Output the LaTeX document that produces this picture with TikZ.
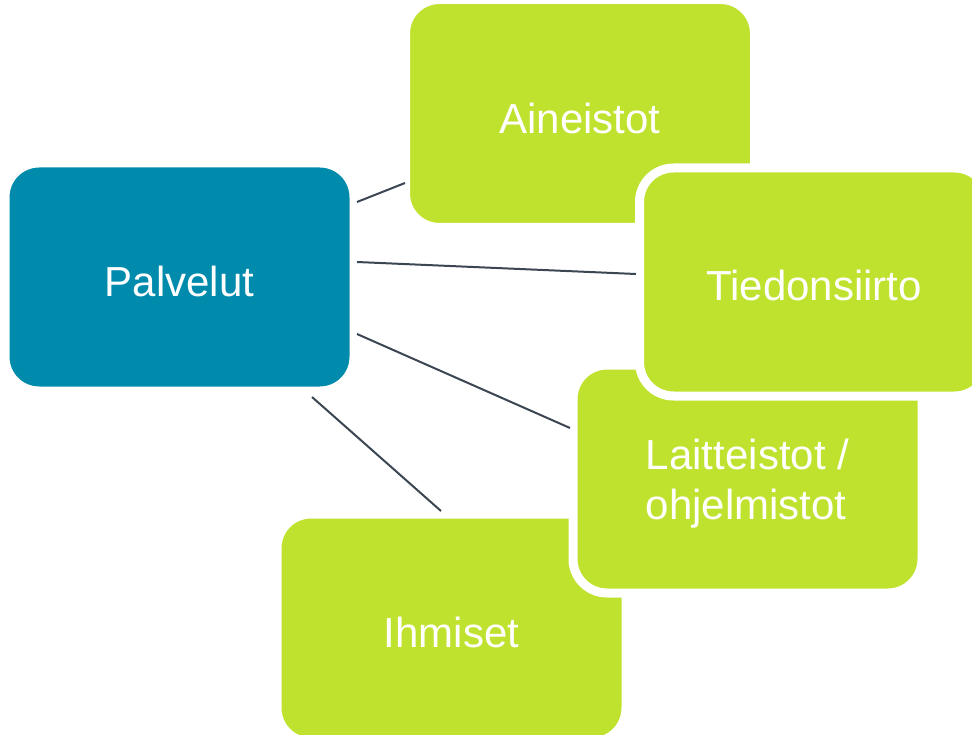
\documentclass[tikz,border=0pt]{standalone}
\usepackage{fontspec}
\setmainfont{Liberation Sans}
\definecolor{teal1}{HTML}{008BAD}
\definecolor{lime1}{HTML}{BFE22E}
\definecolor{link}{HTML}{3B4652}
\newcommand\lowtext[2][4pt]{\raisebox{-#1}[\height][\depth]{#2}}
\begin{document}
\begin{tikzpicture}[x=1pt,y=-1pt,
  box/.style={rounded corners=34pt, minimum width=349pt, minimum height=228pt,
    inner sep=0pt, draw=white, line width=9pt, text=white,
    font=\fontsize{42}{50}\selectfont},
  blue box/.style={box, fill=teal1},
  green box/.style={box, fill=lime1},
  conn/.style={draw=link, line width=2pt}]
\useasboundingbox (0,0) rectangle (972,735);
\clip (0,0) rectangle (972,735);
\node[blue box] (pal) at (179.5,277) {\lowtext{Palvelut}};
\node[green box] (ain) at (580,113.5) {\lowtext[5pt]{Aineistot}};
\node[green box] (ihm) at (451.5,628) {\lowtext{Ihmiset}};
\node[green box] (lai) at (747.5,479) {\lowtext[5pt]{\begin{tabular}{@{}l@{}}Laitteistot /\\ohjelmistot\end{tabular}}};
\node[green box] (tie) at (814,282) {\lowtext[3pt]{Tiedonsiirto}};
\coordinate (p1) at (357,202); \coordinate (a1) at (405,183);
\coordinate (p2) at (357,262); \coordinate (t1) at (636,274);
\coordinate (p3) at (357,334); \coordinate (l1) at (570,428);
\coordinate (p4) at (312,397); \coordinate (i1) at (441,511);
\draw[conn] (p1) -- (a1);
\draw[conn] (p2) -- (t1);
\draw[conn] (p3) -- (l1);
\draw[conn] (p4) -- (i1);
\end{tikzpicture}
\end{document}
